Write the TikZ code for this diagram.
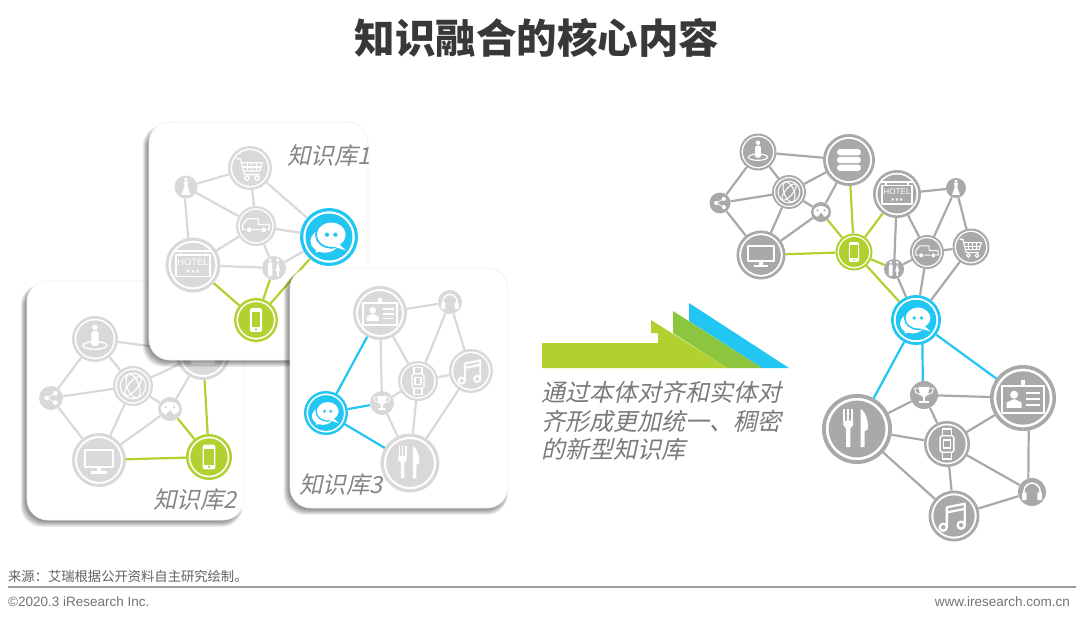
\documentclass[tikz,border=0pt]{standalone}
\usepackage{fontspec}
\setmainfont{Liberation Sans}
\newfontfamily\cjk{Noto Sans CJK SC}
\newfontfamily\cjkit[FakeSlant=0.22]{Noto Sans CJK SC}
\newfontfamily\djv{DejaVu Sans}
\definecolor{pg}{HTML}{D9D9D9}
\definecolor{dg}{HTML}{A9A9A9}
\definecolor{lime}{HTML}{B0D12F}
\definecolor{midg}{HTML}{8CC63F}
\definecolor{sky}{HTML}{22C6F2}
\tikzset{
  x=1pt,y=-1pt,
  netdisc/.style={circle,inner sep=0pt,fill=white},
  panelbox/.style={fill=white,draw=black!5,line width=.8pt,rounded corners=21pt},
  lnk/.style={line width=2.2pt},
  icl/.style={draw=white,line width=\ilw,fill=none,line join=round},
  kb/.style={font=\cjkit\fontsize{23.5}{24}\selectfont,text=black!48,inner sep=0pt},
}
% icons, drawn in a unit circle, y downwards
\newcommand\icchat{
  \fill[white] (-.14,.14) ellipse (.5 and .4);
  \fill[white] (-.46,.54) -- (-.38,.2) -- (-.08,.44) -- cycle;
  \draw[iccol,fill=white,line width=\ilw] (.08,-.08) ellipse (.53 and .45);
  \fill[white] (.3,.2) -- (.58,.46) -- (.05,.3) -- cycle;
  \fill[iccol] (-.07,-.08) circle (.075) (.22,-.08) circle (.075);}
\newcommand\icphone{
  \fill[white,rounded corners=\rc] (-.28,-.54) rectangle (.28,.54);
  \fill[iccol] (-.2,-.36) rectangle (.2,.33);
  \fill[iccol] (0,.43) circle (.055);}
\newcommand\icmonitor{
  \draw[icl,line width=1.4*\ilw] (-.52,-.38) rectangle (.52,.26);
  \fill[white] (-.09,.26) rectangle (.09,.44);
  \fill[white] (-.28,.42) rectangle (.28,.5);}
\newcommand\ichotel{
  \draw[icl] (-.62,-.36) rectangle (.62,.42);
  \draw[icl] (-.68,-.5) -- (.68,-.5);
  \draw[icl] (-.45,-.5) -- (-.45,-.36) (.45,-.5) -- (.45,-.36);
  \node[inner sep=0pt,text=white,font=\fontsize{\icfs}{\icfs}\selectfont] (\curname-t) at (0,-.1) {HOTEL};
  \node[inner sep=0pt,text=white,font=\djv\fontsize{\icfss}{\icfss}\selectfont] (\curname-s) at (0,.22) {★★★};}
\newcommand\iccart{
  \draw[icl] (-.62,-.42) -- (-.44,-.42) -- (-.26,.3) -- (.44,.3);
  \draw[icl] (-.4,-.24) -- (.56,-.24) -- (.44,.14) -- (-.3,.14);
  \draw[icl] (-.36,-.05) -- (.5,-.05);
  \foreach \q in {-.12,.08,.28}{\draw[icl] (\q,-.24) -- (\q,.14);}
  \draw[icl] (-.14,.46) circle (.1) (.32,.46) circle (.1);}
\newcommand\iccar{
  \draw[icl] (-.66,.18) -- (-.66,-.08) -- (-.44,-.36) -- (.12,-.36) -- (.12,-.08) -- (.66,-.08) -- (.66,.18) -- cycle;
  \draw[iccol,fill=white,line width=.7*\ilw] (-.34,.2) circle (.15) (.38,.2) circle (.15);}
\newcommand\icdb{
  \foreach \q in {-.3,0,.3}{\fill[white,rounded corners=1.4*\rc] (-.46,\q-.12) rectangle (.46,\q+.12);}}
\newcommand\icid{
  \draw[icl] (-.64,-.36) rectangle (.64,.44);
  \fill[white] (-.07,-.54) rectangle (.07,-.36);
  \fill[white] (-.27,-.1) circle (.12);
  \fill[white] (-.5,.3) -- (-.5,.14) -- (-.3,.04) -- (-.24,.04) -- (-.04,.14) -- (-.04,.3) -- cycle;
  \foreach \q in {-.14,.03,.2}{\draw[icl] (.1,\q) -- (.5,\q);}}
\newcommand\icperson{
  \fill[white] (0,-.5) circle (.12);
  \fill[white,rounded corners=\rc] (-.16,-.34) rectangle (.16,.3);
  \draw[icl] (0,.28) ellipse (.52 and .17);}
\newcommand\icglobe{
  \draw[icl] (0,0) circle (.64);
  \draw[icl] (0,0) ellipse [x radius=.3,y radius=.62,rotate=20];
  \draw[icl] (0,0) ellipse [x radius=.6,y radius=.22,rotate=50];}
\newcommand\icshare{
  \draw[icl] (.32,-.34) -- (-.32,0) -- (.32,.34);
  \fill[white] (.32,-.34) circle (.17) (-.32,0) circle (.17) (.32,.34) circle (.17);}
\newcommand\icgame{
  \fill[white] (0,-.02) ellipse (.66 and .5);
  \fill[iccol] (0,.06) -- (-.4,.56) -- (.4,.56) -- cycle;
  \fill[iccol] (-.3,-.14) circle (.1) (.3,-.14) circle (.1);}
\newcommand\ichead{
  \draw[icl,line width=1.6*\ilw] (-.5,.15) -- (-.5,-.05) arc (180:360:.5) -- (.5,.15);
  \fill[white,rounded corners=.5*\rc] (-.62,.02) rectangle (-.34,.5);
  \fill[white,rounded corners=.5*\rc] (.34,.02) rectangle (.62,.5);}
\newcommand\icmusic{
  \draw[icl,line width=1.5*\ilw] (-.42,.44) circle (.14) (.28,.36) circle (.14);
  \draw[icl,line width=1.5*\ilw] (-.28,.44) -- (-.28,-.34) -- (.42,-.48) -- (.42,.36);
  \draw[icl,line width=1.5*\ilw] (-.28,-.14) -- (.42,-.28);}
\newcommand\icwatch{
  \draw[icl,rounded corners=\rc] (-.3,-.36) rectangle (.3,.36);
  \draw[icl] (-.15,-.18) rectangle (.15,.18);
  \draw[icl] (-.2,-.36) -- (-.2,-.66) -- (.2,-.66) -- (.2,-.36);
  \draw[icl] (-.2,.36) -- (-.2,.66) -- (.2,.66) -- (.2,.36);}
\newcommand\ictrophy{
  \fill[white] (-.34,-.5) -- (.34,-.5) -- (.26,-.05) -- (.08,.12) -- (-.08,.12) -- (-.26,-.05) -- cycle;
  \draw[icl] (-.34,-.42) -- (-.58,-.42) -- (-.5,-.14) -- (-.24,-.02);
  \draw[icl] (.34,-.42) -- (.58,-.42) -- (.5,-.14) -- (.24,-.02);
  \fill[white] (-.05,.1) rectangle (.05,.4);
  \fill[white] (-.28,.38) rectangle (.28,.5);}
\newcommand\icfork{
  \foreach \q in {-.36,-.25,-.14}{\fill[white] (\q-.028,-.58) rectangle (\q+.028,-.2);}
  \fill[white] (-.39,-.24) -- (-.11,-.24) -- (-.11,-.1) -- (-.19,-.02) -- (-.19,.52) -- (-.31,.52) -- (-.31,-.02) -- (-.39,-.1) -- cycle;
  \fill[white] (.1,.52) -- (.1,-.58) .. controls (.26,-.48) and (.34,-.2) .. (.3,.02) -- (.22,.06) -- (.22,.52) -- cycle;}
\newcommand\icrest{
  \fill[white] (-.28,-.58) circle (.13) (.28,-.58) circle (.13);
  \fill[white,rounded corners=\rc] (-.44,-.4) rectangle (-.12,.6);
  \fill[white] (.28,-.42) -- (.46,.2) -- (.36,.2) -- (.36,.6) -- (.2,.6) -- (.2,.2) -- (.1,.2) -- cycle;}
\newcommand\icdress{
  \fill[white] (0,-.58) circle (.14);
  \fill[white] (-.16,-.42) -- (.16,-.42) -- (.12,-.05) -- (.34,.6) -- (-.34,.6) -- (-.12,-.05) -- cycle;}
% name, x, y, radius, colour, icon
\newcommand\nn[6]{
  \pgfmathsetmacro\lwd{max(#4*.11,1.6)}
  \pgfmathsetmacro\sc{#4<=14.5 ? #4*1.15 : #4*1}
  \pgfmathsetlengthmacro\ilw{max(\sc*.06,.55)*1pt}
  \pgfmathsetlengthmacro\rc{\sc*.08*1pt}
  \pgfmathsetmacro\icfs{\sc*.34}
  \pgfmathsetmacro\icfss{\sc*.2}
  \def\curname{#1}
  \colorlet{iccol}{#5}
  \ifdim#4pt<14.5pt
    \node[netdisc,fill=#5,draw=none,minimum size={2*#4*1pt}] (#1) at (#2,#3) {};
  \else
    \node[netdisc,draw=#5,line width=\lwd pt,minimum size={(2*#4-\lwd)*1pt}] (#1) at (#2,#3) {};
    \fill[#5] (#1.center) circle ({#4*.81*1pt});
  \fi
  \begin{scope}[shift={(#1.center)},x=\sc pt,y=-\sc pt]
    #6
  \end{scope}
}
\newcommand\panelshadow[4]{
  \foreach \e in {6,5,4,3,2,1,0}{
    \fill[black,opacity=.07,rounded corners=21pt] ({#1-1.5-\e*.8},{#2+5-\e*.3}) rectangle ({#3-2+\e*.3},{#4+1.5+\e*.9});}
}
\begin{document}
\begin{tikzpicture}
\useasboundingbox (0,0) rectangle (1080,622);
\fill[white] (0,0) rectangle (1080,622);

\node[font=\cjk\bfseries\fontsize{40.5}{42}\selectfont,text=black!78,inner sep=0pt] (title) at (537,38) {知识融合的核心内容};

% ---------- panel 2
\panelshadow{27}{281}{243}{520}
\path[panelbox] (27,281) rectangle (244,520);
\nn{bperson}{95}{339}{23}{pg}{\icperson}
\nn{bglobe}{133}{386}{20}{pg}{\icglobe}
\nn{bshare}{51}{398}{12}{pg}{\icshare}
\nn{bgame}{170}{409}{12}{pg}{\icgame}
\nn{bmon}{99}{460}{27}{pg}{\icmonitor}
\nn{bphone}{209}{457}{23}{lime}{\icphone}
\nn{bdb}{203}{353}{27}{pg}{\icdb}
\foreach \a/\b in {bperson/bdb,bperson/bglobe,bperson/bshare,bglobe/bdb,bglobe/bshare,bglobe/bgame,bglobe/bmon,bshare/bmon,bgame/bmon,bgame/bdb}
  \draw[lnk,pg] (\a) -- (\b);
\foreach \a/\b in {bdb/bphone,bgame/bphone,bmon/bphone}
  \draw[lnk,lime] (\a) -- (\b);
\node[kb] (kb2) at (195,500) {知识库2};

% ---------- panel 1
\panelshadow{149}{122}{367}{360}
\path[panelbox] (149,122) rectangle (368,360);
\nn{acart}{250}{168}{22}{pg}{\iccart}
\nn{adress}{186}{187}{11.5}{pg}{\icdress}
\nn{acar}{256}{226}{20}{pg}{\iccar}
\nn{achat}{329}{237}{29}{sky}{\icchat}
\nn{ahotel}{193}{265}{27.5}{pg}{\ichotel}
\nn{arest}{274}{268}{12}{pg}{\icrest}
\nn{aphone}{256}{320}{22}{lime}{\icphone}
\foreach \a/\b in {adress/acart,adress/acar,acart/acar,acart/achat,acar/achat,acar/ahotel,acar/arest,ahotel/arest,arest/achat}
  \draw[lnk,pg] (\a) -- (\b);
\draw[lnk,pg] (adress.-95) -- (ahotel.100);
\foreach \a/\b in {ahotel/aphone,arest/aphone,achat/aphone}
  \draw[lnk,lime] (\a) -- (\b);
\node[kb] (kb1) at (329,156) {知识库1};

% ---------- panel 3
\panelshadow{290}{268}{508}{508}
\path[panelbox] (290,268) rectangle (508,508);
\nn{cid}{380}{313}{27}{pg}{\icid}
\nn{chead}{450}{302}{12}{pg}{\ichead}
\nn{cmusic}{471}{371}{22}{pg}{\icmusic}
\nn{cwatch}{418}{381}{20}{pg}{\icwatch}
\nn{ctrophy}{382}{403}{12}{pg}{\ictrophy}
\nn{cchat}{326}{413}{22}{sky}{\icchat}
\nn{cfork}{410}{463}{29.5}{pg}{\icfork}
\foreach \a/\b in {cid/chead,cid/ctrophy,cid/cwatch,ctrophy/cwatch,ctrophy/cfork,cwatch/cfork,cwatch/cmusic,cwatch/chead,cmusic/chead,cmusic/cfork}
  \draw[lnk,pg] (\a) -- (\b);
\foreach \a/\b in {cid/cchat,ctrophy/cchat,cfork/cchat}
  \draw[lnk,sky] (\a) -- (\b);
\node[kb] (kb3) at (341,485) {知识库3};

% ---------- arrow
\fill[sky] (689,303) -- (789,368) -- (762,368) -- (689,321) -- cycle;
\fill[midg] (673,311) -- (762,368) -- (727,368) -- (673,333) -- cycle;
\fill[lime] (542,343) -- (658,343) -- (658,333) -- (651,333) -- (651,320) -- (727,368) -- (542,368) -- cycle;

\node[anchor=north west,inner sep=0pt,align=left,text=black!52,font=\cjkit\fontsize{24}{28.5}\selectfont] (cap) at (541,381)
  {通过本体对齐和实体对\\齐形成更加统一、稠密\\的新型知识库};

% ---------- merged network
\nn{dperson}{758}{152}{18.5}{dg}{\icperson}
\nn{ddb}{849}{160}{26}{dg}{\icdb}
\nn{dglobe}{789}{192}{17}{dg}{\icglobe}
\nn{dshare}{720}{203}{10.5}{dg}{\icshare}
\nn{dgame}{821}{212}{10}{dg}{\icgame}
\nn{dmon}{761}{255}{24.5}{dg}{\icmonitor}
\nn{dphone}{854}{252}{18.5}{lime}{\icphone}
\nn{dhotel}{897}{194}{24}{dg}{\ichotel}
\nn{ddress}{956}{188}{10}{dg}{\icdress}
\nn{dcart}{971}{247}{18.5}{dg}{\iccart}
\nn{dcar}{927}{252}{17}{dg}{\iccar}
\nn{drest}{894}{269}{10}{dg}{\icrest}
\nn{dchat}{916}{320}{25}{sky}{\icchat}
\nn{dfork}{857}{429}{35}{dg}{\icfork}
\nn{dtrophy}{924}{395}{14}{dg}{\ictrophy}
\nn{did}{1023}{398}{33}{dg}{\icid}
\nn{dwatch}{947}{444}{23}{dg}{\icwatch}
\nn{dmusic}{954}{516}{25.5}{dg}{\icmusic}
\nn{dhead}{1032}{492}{14}{dg}{\ichead}
\foreach \a/\b in {dperson/ddb,dperson/dglobe,dperson/dshare,ddb/dglobe,ddb/dgame,dglobe/dshare,dglobe/dgame,dglobe/dmon,dshare/dmon,dgame/dmon,dhotel/ddress,dhotel/drest,dhotel/dcar,ddress/dcar,ddress/dcart,dcar/dcart,dcar/drest,drest/dchat,dcar/dchat,dcart/dchat,dfork/dtrophy,dtrophy/did,dtrophy/dwatch,did/dwatch,dfork/dwatch,dfork/dmusic,dwatch/dmusic,dwatch/dhead,dmusic/dhead}
  \draw[lnk,dg] (\a) -- (\b);
\draw[lnk,dg] (did.-80) -- (dhead.105);
\foreach \a/\b in {ddb/dphone,dgame/dphone,dmon/dphone,dhotel/dphone,dphone/drest,dphone/dchat}
  \draw[lnk,lime] (\a) -- (\b);
\foreach \a/\b in {dchat/dfork,dchat/did}
  \draw[lnk,sky] (\a) -- (\b);
\draw[lnk,sky] (dchat.-75) -- (dtrophy.95);

% ---------- footer
\node[anchor=west,inner sep=0pt,text=black!62,font=\cjk\fontsize{13.3}{14}\selectfont] (src) at (8,576) {来源：艾瑞根据公开资料自主研究绘制。};
\coordinate (ruleL) at (8,587);
\coordinate (ruleR) at (1076,587);
\draw[line width=1.5pt,black!38] (ruleL) -- (ruleR);
\node[anchor=west,inner sep=0pt,text=black!55,font=\fontsize{13.5}{14}\selectfont] (copy) at (8,602) {©2020.3 iResearch Inc.};
\node[anchor=east,inner sep=0pt,text=black!55,font=\fontsize{13.5}{14}\selectfont] (web) at (1070,602) {www.iresearch.com.cn};
\end{tikzpicture}
\end{document}
